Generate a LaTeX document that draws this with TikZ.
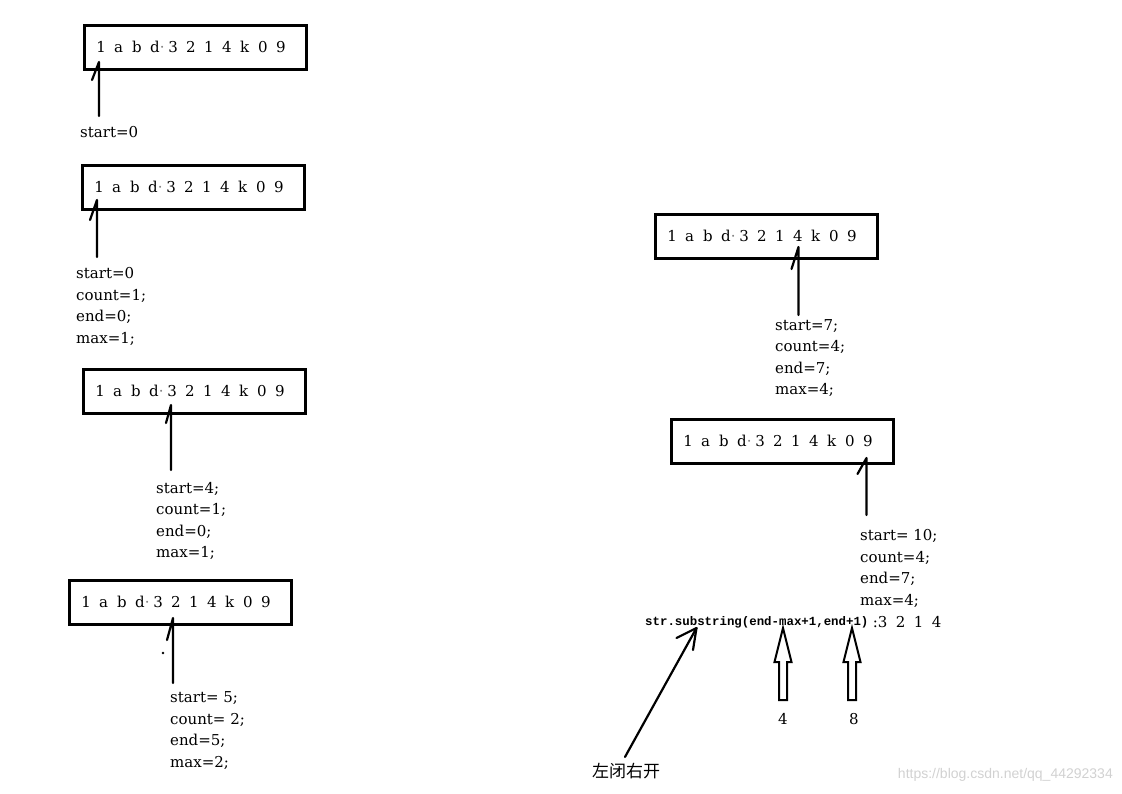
\documentclass[tikz,border=0pt]{standalone}
\usepackage{fontspec}
\setmainfont{DejaVu Serif}
\newfontfamily\codefont{Liberation Mono}
\newfontfamily\cjkfont{Noto Sans CJK SC}
\newfontfamily\markfont{Liberation Sans}
\usetikzlibrary{positioning}

% fixed-pitch characters, as in the screenshot
\newcommand{\cells}[1]{\foreach \c in {#1}{\makebox[18pt][l]{\c}}}
\newcommand{\dotmark}{{\color{gray}\textperiodcentered}}
\newcommand{\seqrow}{\cells{1,a,b,d\dotmark,3,2,1,4,k,0,9}}

\begin{document}
\begin{tikzpicture}[
        x=1pt, y=-1pt,
        strbox/.style={draw, line width=2.5pt, minimum width=222pt, minimum height=44pt,
            anchor=north west, inner sep=0pt, font=\fontsize{15}{15}\selectfont},
        lbl/.style={anchor=west, align=left, inner sep=0pt, font=\fontsize{15}{21.6}\selectfont},
        code/.style={anchor=west, inner sep=0pt, font=\codefont\bfseries\fontsize{12.4}{12.4}\selectfont},
        pen/.style={line width=2.2pt, line cap=round, line join=round},
        hollow/.style={line width=2pt, line join=miter}
    ]
    \useasboundingbox (0,0) rectangle (1122,793);

    % Left column
    \node[strbox] (box1) at (83,24) {\seqrow};
    \node[lbl] (lab1) at (80,132) {start=0};

    \node[strbox] (box2) at (81,164) {\seqrow};
    \node[lbl] (lab2) at (76,306.5) {start=0\\count=1;\\end=0;\\max=1;};

    \node[strbox] (box3) at (82,368) {\seqrow};
    \node[lbl] (lab3) at (156,521) {start=4;\\count=1;\\end=0;\\max=1;};

    \node[strbox] (box4) at (68,579) {\seqrow};
    \node[lbl] (lab4) at (170,730.5) {start= 5;\\count= 2;\\end=5;\\max=2;};
    \fill (163,653) circle (1.3pt);

    % Right column
    \node[strbox] (box5) at (654,213) {\seqrow};
    \node[lbl] (lab5) at (775,358) {start=7;\\count=4;\\end=7;\\max=4;};

    \node[strbox] (box6) at (670,418) {\seqrow};
    \node[lbl] (lab6) at (860,568.5) {start= 10;\\count=4;\\end=7;\\max=4;};

    % Pointers (line + one barb)
    \foreach \i/\x/\yt/\yb/\dx/\dy in {1/99/62/116/-7/18, 2/97/200/257/-7/20,
            3/171/405/470/-5/18, 4/173/618/683/-6/22,
            5/798.5/247/315/-7/22, 6/866.5/458/515/-9/16} {
        \coordinate (tip\i) at (\x,\yt);
        \coordinate (tail\i) at (\x,\yb);
        \draw[pen] (tail\i) -- (tip\i) -- ++(\dx,\dy);
    }

    % substring call
    \node[code] (call) at (645,622) {str.substring(end-max+1,end+1)};
    \node[lbl, right=4pt of call] (result) {:\cells{3,2,1,4}};

    % Hollow arrows with indices
    \foreach \x in {783,852}
        \draw[hollow] (\x,628) -- ++(8.5,34) -- ++(-4.5,0) -- ++(0,38) -- ++(-8,0)
            -- ++(0,-38) -- ++(-4.5,0) -- cycle;
    \node[lbl, anchor=center] (lo) at (783,719) {4};
    \node[lbl, anchor=center] (hi) at (854,719) {8};

    % Closed-open note
    \node[font=\cjkfont\fontsize{17}{17}\selectfont, inner sep=0pt] (rule) at (626,771) {左闭右开};
    \coordinate (aim) at (696.5,628);
    \draw[pen] (rule.north) ++(-1,-6) -- (aim);
    \draw[pen] (aim) ++(-20,10) -- (aim) -- ++(-3.5,22);

    \node[font=\markfont\fontsize{14}{14}\selectfont, text=black!18, anchor=east, inner sep=0pt]
        (mark) at (1113,775) {https://blog.csdn.net/qq\_44292334};
\end{tikzpicture}
\end{document}
